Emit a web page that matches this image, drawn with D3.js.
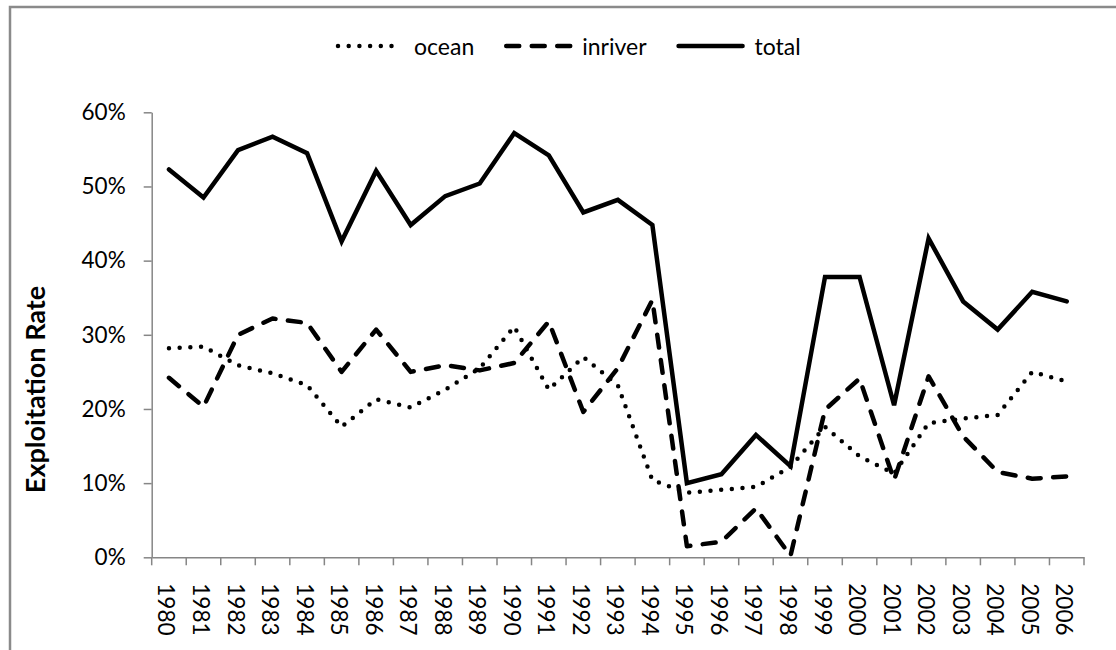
<!DOCTYPE html>
<html>
<head>
<meta charset="utf-8">
<script src="https://cdn.jsdelivr.net/npm/d3@7"></script>
<style>
  body { margin: 0; background: #fff; }
  svg { display: block; font-family: Lato, "Open Sans", sans-serif; }
</style>
</head>
<body>
<div id="container"></div>
<script>
// exploitation rate per year
var years = ["1980","1981","1982","1983","1984","1985","1986","1987","1988","1989",
  "1990","1991","1992","1993","1994","1995","1996","1997","1998","1999",
  "2000","2001","2002","2003","2004","2005","2006"];

var ocean = [0.282, 0.284, 0.259, 0.248, 0.232, 0.176, 0.213, 0.202, 0.226, 0.255,
  0.311, 0.226, 0.270, 0.232, 0.104, 0.087, 0.091, 0.095, 0.122, 0.176,
  0.136, 0.113, 0.181, 0.187, 0.192, 0.250, 0.237];

var inriver = [0.242, 0.203, 0.300, 0.322, 0.316, 0.250, 0.307, 0.250, 0.259, 0.252,
  0.262, 0.318, 0.196, 0.255, 0.347, 0.015, 0.021, 0.066, 0.002, 0.199,
  0.241, 0.104, 0.244, 0.163, 0.115, 0.106, 0.109];

var total = [0.523, 0.485, 0.549, 0.567, 0.545, 0.426, 0.521, 0.448, 0.487, 0.504,
  0.572, 0.542, 0.465, 0.482, 0.448, 0.100, 0.112, 0.165, 0.123, 0.378,
  0.378, 0.205, 0.430, 0.345, 0.307, 0.358, 0.345];

var yTicks = [0, 0.1, 0.2, 0.3, 0.4, 0.5, 0.6];
var seriesNames = ["ocean", "inriver", "total"];

var width = 1116, height = 650;
// note: "top" is taken by window.top, so plot edges get their own names
var plotLeft = 151.7, plotRight = 1084, plotTop = 112.3, plotBottom = 557.3;
var axisGrey = "#868686";

// dash styles, excel round dot / dash / solid
var dashes = { ocean: "0 10.7", inriver: "13 12.5", total: null };
var seriesData = { ocean: ocean, inriver: inriver, total: total };

var svg = d3.select("#container").append("svg")
  .attr("width", width)
  .attr("height", height);

// chart area border (only top and left are in the picture)
svg.append("rect")
  .attr("x", 10).attr("y", 7)
  .attr("width", 1300).attr("height", 800)
  .attr("fill", "none")
  .attr("stroke", "#8a8a8a")
  .attr("stroke-width", 2.5);

var x = d3.scaleBand().domain(years).range([plotLeft, plotRight]).padding(0);
var y = d3.scaleLinear().domain([0, 0.6]).range([plotBottom, plotTop]);

// y axis
var yAxis = svg.append("g")
  .attr("transform", "translate(" + plotLeft + ",0)")
  .call(d3.axisLeft(y).tickValues(yTicks).tickFormat(d3.format(".0%")).tickSize(8).tickSizeOuter(0).tickPadding(18));
yAxis.selectAll("path, line").attr("stroke", axisGrey).attr("stroke-width", 1.5);
yAxis.selectAll("text")
  .attr("font-family", "Lato")
  .attr("font-size", 22.5)
  .attr("fill", "#000");

// x axis, ticks between the categories like excel does
var xAxis = svg.append("g")
  .attr("transform", "translate(0," + plotBottom + ")")
  .call(d3.axisBottom(x).tickSize(0).tickSizeOuter(0));
xAxis.select(".domain").attr("stroke", axisGrey).attr("stroke-width", 1.5);
xAxis.selectAll(".tick text")
  .attr("font-family", "Lato")
  .attr("font-size", 22.5)
  .attr("fill", "#000")
  .attr("text-anchor", "start")
  .attr("transform", "translate(0,26) rotate(90)")
  .attr("x", 0)
  .attr("y", 10.5)
  .attr("dy", null);

var bounds = years.map(function(d){ return x(d); }).concat([x(years[years.length - 1]) + x.bandwidth()]);
xAxis.selectAll(".bound")
  .data(bounds)
  .enter().append("line")
  .attr("class", "bound")
  .attr("x1", function(d){ return d; })
  .attr("x2", function(d){ return d; })
  .attr("y1", 0).attr("y2", 8)
  .attr("stroke", axisGrey)
  .attr("stroke-width", 1.5);

// y axis title
svg.append("text")
  .attr("transform", "translate(45,389.5) rotate(-90)")
  .attr("text-anchor", "middle")
  .attr("font-family", "Lato")
  .attr("font-weight", "bold")
  .attr("font-size", 27)
  .text("Exploitation Rate");

// the lines
var line = d3.line()
  .x(function(d, i){ return x(years[i]) + x.bandwidth() / 2; })
  .y(function(d){ return y(d); });

seriesNames.forEach(function(name){
  svg.append("path")
    .datum(seriesData[name])
    .attr("d", line)
    .attr("fill", "none")
    .attr("stroke", "#000")
    .attr("stroke-width", 4.5)
    .attr("stroke-linecap", "round")
    .attr("stroke-linejoin", name == "total" ? "miter" : "round")
    .attr("stroke-dasharray", dashes[name]);
});

// legend on top
var legend = svg.append("g").attr("class", "legend");
var lx = 338;
seriesNames.forEach(function(name){
  legend.append("line")
    .attr("x1", lx).attr("x2", lx + 64)
    .attr("y1", 46).attr("y2", 46)
    .attr("stroke", "#000")
    .attr("stroke-width", 4.5)
    .attr("stroke-linecap", "round")
    .attr("stroke-dasharray", dashes[name]);
  var t = legend.append("text")
    .attr("x", lx + 76)
    .attr("y", 55)
    .attr("font-family", "Lato")
    .attr("font-size", 23)
    .text(name);
  lx = lx + 76 + t.node().getComputedTextLength() + 32;
});
</script>
</body>
</html>
